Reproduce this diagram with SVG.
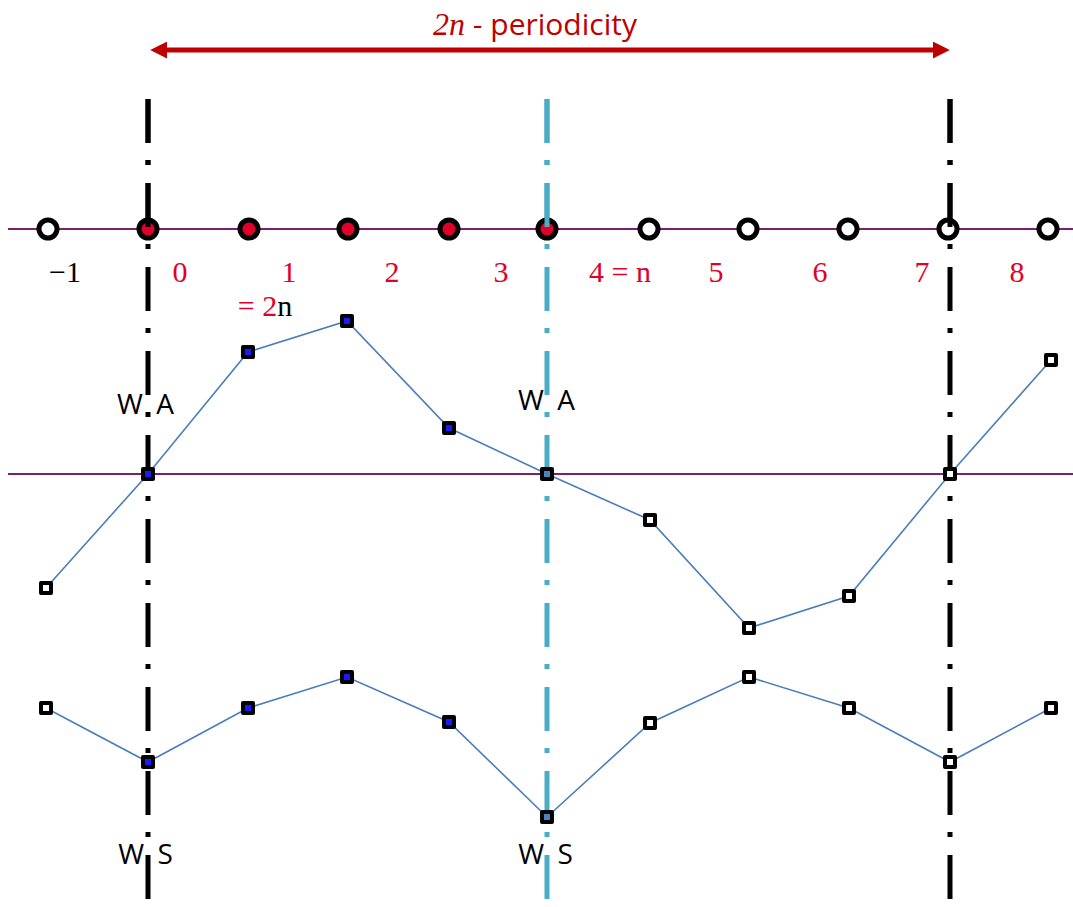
<svg xmlns="http://www.w3.org/2000/svg" width="1073" height="907" viewBox="0 0 1073 907">
<style>
.vk{stroke:#000;stroke-width:5;stroke-dasharray:44 17 5 18;fill:none}
.vc{stroke:#4bacc6;stroke-width:5;stroke-dasharray:44 17 5 18;fill:none}
.ax{stroke:#7b1f6e;stroke-width:2;fill:none}
.ser{stroke:#4a7ebb;stroke-width:1.6;fill:none}
.c{stroke:#000;stroke-width:5}
.cr{fill:#e0002a}
.cw{fill:#fff}
.m{stroke:#000;stroke-width:4;stroke-linejoin:round}
.mb{fill:#1a1aff}
.mw{fill:#fff}
.mc{fill:#4f81bd}
.num{font-family:"Liberation Serif","DejaVu Serif",serif;font-size:30px;fill:#e0002a;text-anchor:middle}
.lab{font-family:"Open Sans","Liberation Sans",sans-serif;font-size:28px;fill:#000;text-anchor:middle}
</style>
<defs>
<marker id="ah" viewBox="0 0 10 10" refX="6" refY="5" markerWidth="3.4" markerHeight="3.4" orient="auto-start-reverse" markerUnits="strokeWidth">
<path d="M0,0 L10,5 L0,10 Z" fill="#c00000"/>
</marker>
</defs>
<rect width="1073" height="907" fill="#fff"/>
<g id="axes">
<line class="ax" x1="8" y1="229" x2="1073" y2="229"/>
<line class="ax" x1="8" y1="474" x2="1073" y2="474"/>
</g>
<g id="title">
<line x1="157" y1="50" x2="943" y2="50" stroke="#c00000" stroke-width="5" marker-start="url(#ah)" marker-end="url(#ah)"/>
<text x="535" y="35" font-family="Open Sans,Liberation Sans,sans-serif" font-size="30" fill="#c00000" text-anchor="middle"><tspan font-family="Liberation Serif,DejaVu Serif,serif" font-style="italic" font-size="32">2n</tspan> - periodicity</text>
</g>
<g id="connectors">
<polyline class="ser" points="46,588 148,474 248,352 347,321 449,428 547,474 650,520 749,628 849,596 950,474 1051,360"/>
<polyline class="ser" points="46,708 148,762 248,708 347,677 449,722 547,817 650,723 749,677 849,708 950,762 1051,708"/>
</g>
<g id="symmetry-lines">
<line class="vk" x1="148" y1="99" x2="148" y2="907"/>
<line class="vc" x1="547" y1="99" x2="547" y2="907"/>
<line class="vk" x1="950" y1="99" x2="950" y2="907"/>
</g>
<g id="grid-points">
<circle class="c cw" cx="48" cy="229" r="9"/>
<circle class="c cr" cx="148" cy="229" r="9"/>
<circle class="c cr" cx="249" cy="229" r="9"/>
<circle class="c cr" cx="348" cy="229" r="9"/>
<circle class="c cr" cx="449" cy="229" r="9"/>
<circle class="c cr" cx="547" cy="229" r="9"/>
<circle class="c cw" cx="649" cy="229" r="9"/>
<circle class="c cw" cx="748" cy="229" r="9"/>
<circle class="c cw" cx="848" cy="229" r="9"/>
<circle class="c cw" cx="948" cy="229" r="9"/>
<circle class="c cw" cx="1048" cy="229" r="9"/>
<line x1="148" y1="99" x2="148" y2="229" stroke="#000" stroke-width="5" stroke-dasharray="44 17 5 18"/>
<line x1="547" y1="99" x2="547" y2="229" stroke="#4bacc6" stroke-width="5" stroke-dasharray="44 17 5 18"/>
<line x1="950" y1="99" x2="950" y2="229" stroke="#000" stroke-width="5" stroke-dasharray="44 17 5 18"/>
</g>
<g id="index-labels">
<text x="65" y="282" class="num" style="fill:#000">−1</text>
<text x="180" y="282" class="num">0</text>
<text x="289" y="282" class="num">1</text>
<text x="392" y="282" class="num">2</text>
<text x="501" y="282" class="num">3</text>
<text x="620" y="282" class="num">4 = n</text>
<text x="716" y="282" class="num">5</text>
<text x="820" y="282" class="num">6</text>
<text x="922" y="282" class="num">7</text>
<text x="1017" y="282" class="num">8</text>
<text x="265" y="316" class="num">= 2<tspan style="fill:#000">n</tspan></text>
</g>
<g id="series-a">
<rect class="m mw" x="41" y="583" width="10" height="10"/>
<rect class="m mb" x="143" y="469" width="10" height="10"/>
<rect class="m mb" x="243" y="347" width="10" height="10"/>
<rect class="m mb" x="342" y="316" width="10" height="10"/>
<rect class="m mb" x="444" y="423" width="10" height="10"/>
<rect class="m mc" x="542" y="469" width="10" height="10"/>
<rect class="m mw" x="645" y="515" width="10" height="10"/>
<rect class="m mw" x="744" y="623" width="10" height="10"/>
<rect class="m mw" x="844" y="591" width="10" height="10"/>
<rect class="m mw" x="945" y="469" width="10" height="10"/>
<rect class="m mw" x="1046" y="355" width="10" height="10"/>
</g>
<g id="series-s">
<rect class="m mw" x="41" y="703" width="10" height="10"/>
<rect class="m mb" x="143" y="757" width="10" height="10"/>
<rect class="m mb" x="243" y="703" width="10" height="10"/>
<rect class="m mb" x="342" y="672" width="10" height="10"/>
<rect class="m mb" x="444" y="717" width="10" height="10"/>
<rect class="m mc" x="542" y="812" width="10" height="10"/>
<rect class="m mw" x="645" y="718" width="10" height="10"/>
<rect class="m mw" x="744" y="672" width="10" height="10"/>
<rect class="m mw" x="844" y="703" width="10" height="10"/>
<rect class="m mw" x="945" y="757" width="10" height="10"/>
<rect class="m mw" x="1046" y="703" width="10" height="10"/>
</g>
<g id="wa-labels">
<text class="lab" x="147" y="414" letter-spacing="3">W A</text>
<text class="lab" x="548" y="410" letter-spacing="3">W A</text>
</g>
<g id="ws-labels">
<text class="lab" x="147" y="864" letter-spacing="3">W S</text>
<text class="lab" x="547" y="864" letter-spacing="3">W S</text>
</g>
</svg>
